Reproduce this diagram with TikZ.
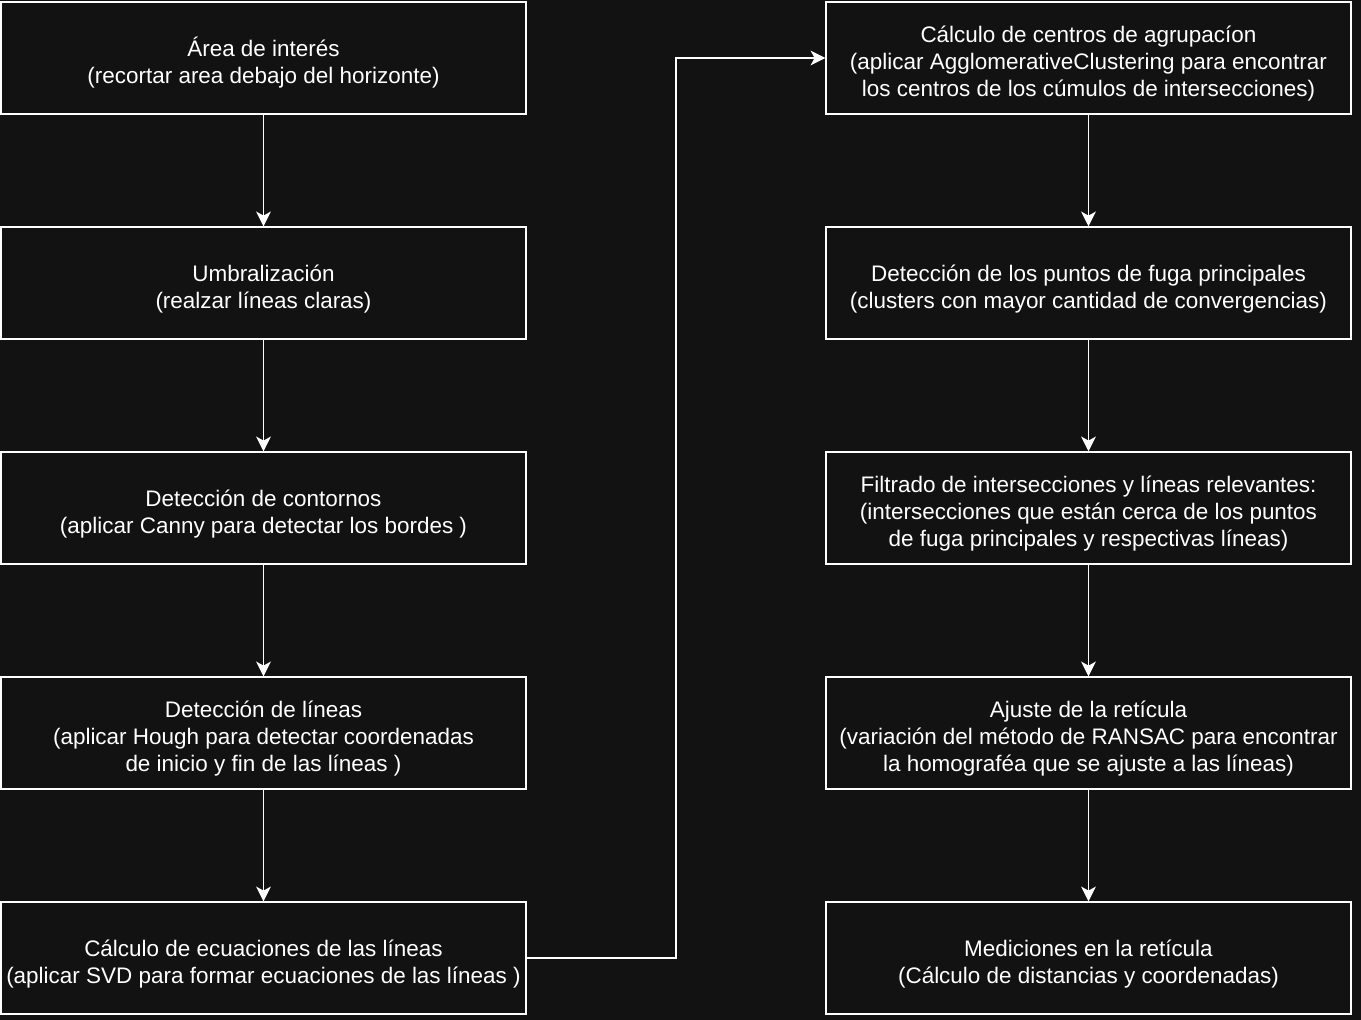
\documentclass[tikz,border=0pt]{standalone}
\usepackage{fontspec}
\setmainfont{Liberation Sans}
\usetikzlibrary{arrows.meta}
\definecolor{bgdark}{HTML}{121212}
\newcommand{\alto}{\rule{0pt}{21pt}}
\tikzset{
    stage/.style={draw=white, line width=1.1pt, fill=bgdark, text=white,
        minimum width=393.75pt, minimum height=84pt, align=center,
        inner sep=2pt, font=\fontsize{16.85pt}{20.25pt}\selectfont},
    flow/.style={draw=white, line width=1.1pt, -{Stealth[length=11pt, width=11pt, inset=3pt]}}
}
\begin{document}
\begin{tikzpicture}[x=0.75pt, y=-0.75pt]
        \useasboundingbox (0, 0) rectangle (1361, 1020);
        \fill[bgdark] (0, 0) rectangle (1361, 1020);

        % columna izquierda
        \node[stage] (area) at (263.5, 58) {\alto Área de interés\\(recortar area debajo del horizonte)};
        \node[stage] (umbral) at (263.5, 283) {\alto Umbralización\\(realzar líneas claras)};
        \node[stage] (contornos) at (263.5, 508) {\alto Detección de contornos\\(aplicar Canny para detectar los bordes )};
        \node[stage] (lineas) at (263.5, 733) {\alto Detección de líneas\\(aplicar Hough para detectar coordenadas\\de inicio y fin de las líneas )};
        \node[stage] (ecuaciones) at (263.5, 958) {\alto Cálculo de ecuaciones de las líneas\\(aplicar SVD para formar ecuaciones de las líneas )};

        % columna derecha
        \node[stage] (centros) at (1088.5, 58) {\alto Cálculo de centros de agrupacíon\\(aplicar AgglomerativeClustering para encontrar\\los centros de los cúmulos de intersecciones)};
        \node[stage] (fuga) at (1088.5, 283) {\alto Detección de los puntos de fuga principales\\(clusters con mayor cantidad de convergencias)};
        \node[stage] (filtrado) at (1088.5, 508) {\alto Filtrado de intersecciones y líneas relevantes:\\(intersecciones que están cerca de los puntos\\de fuga principales y respectivas líneas)};
        \node[stage] (reticula) at (1088.5, 733) {\alto Ajuste de la retícula\\(variación del método de RANSAC para encontrar\\la homograféa que se ajuste a las líneas)};
        \node[stage] (mediciones) at (1088.5, 958) {\alto Mediciones en la retícula\\(Cálculo de distancias y coordenadas)};

        \draw[flow] (area) -- (umbral);
        \draw[flow] (umbral) -- (contornos);
        \draw[flow] (contornos) -- (lineas);
        \draw[flow] (lineas) -- (ecuaciones);

        \coordinate (paso) at (676, 958);
        \draw[flow] (ecuaciones.east) -- (paso) |- (centros.west);

        \draw[flow] (centros) -- (fuga);
        \draw[flow] (fuga) -- (filtrado);
        \draw[flow] (filtrado) -- (reticula);
        \draw[flow] (reticula) -- (mediciones);

    \end{tikzpicture}
\end{document}
